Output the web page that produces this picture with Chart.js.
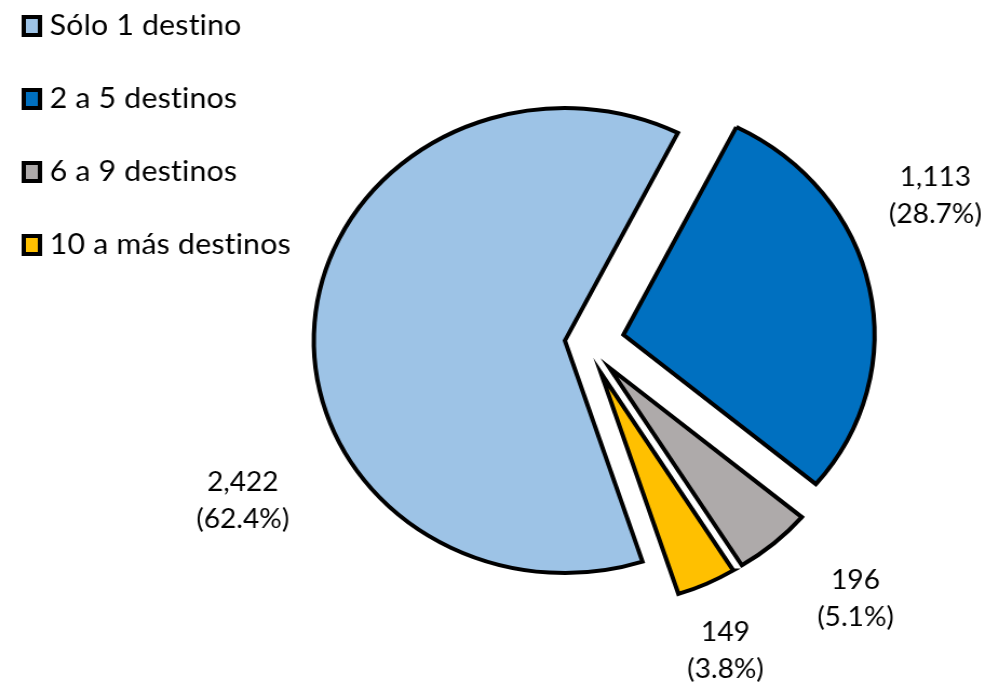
<!DOCTYPE html>
<html>
<head>
<meta charset="utf-8">
<script src="https://cdn.jsdelivr.net/npm/chart.js@4.4.1/dist/chart.umd.min.js"></script>
<style>
html,body{margin:0;padding:0;background:#fff;overflow:hidden;}
#wrap{width:926px;height:684px;transform:scaleX(1.08);transform-origin:0 0;}
canvas{display:block;}
</style>
</head>
<body>
<div id="wrap"><canvas id="c" width="926" height="684"></canvas></div>
<script>
// ---- data ----
const categories = ['Sólo 1 destino', '2 a 5 destinos', '6 a 9 destinos', '10 a más destinos'];
const values = [2422, 1113, 196, 149];

// ---- style ----
const colors = ['#9DC3E6', '#0070C0', '#AEAAAA', '#FFC000'];
const explodePx = [19, 36, 34, 34];             // how far each slice is pulled out
const labelFrac = [0.355, 0.364, 0.297, 0.674]; // where along the arc the label sits
const labelGap = [106, 88, 92, 69];             // label distance beyond the rim
const FONT = 'Lato, "Open Sans", sans-serif';
const LABEL_SIZE = 26;
const LEGEND_SIZE = 28;
const LINE = 37;

const total = values.reduce((a, b) => a + b, 0);

const explodePlugin = {
  id: 'explode',
  afterDatasetUpdate(chart, args) {
    args.meta.data.forEach((arc, i) => {
      const mid = (arc.startAngle + arc.endAngle) / 2;
      arc.x += Math.cos(mid) * explodePx[i];
      arc.y += Math.sin(mid) * explodePx[i];
    });
  }
};

const labelPlugin = {
  id: 'sliceLabels',
  afterDatasetsDraw(chart) {
    const meta = chart.getDatasetMeta(0);
    const ctx = chart.ctx;
    ctx.save();
    ctx.font = LABEL_SIZE + 'px ' + FONT;
    ctx.fillStyle = '#000';
    ctx.textAlign = 'center';
    ctx.textBaseline = 'middle';
    meta.data.forEach((arc, i) => {
      const a = arc.startAngle + (arc.endAngle - arc.startAngle) * labelFrac[i];
      const r = arc.outerRadius + labelGap[i];
      const x = arc.x + Math.cos(a) * r;
      const y = arc.y + Math.sin(a) * r;
      const v = values[i].toLocaleString('en-US');
      const p = '(' + (values[i] / total * 100).toFixed(1) + '%)';
      ctx.fillText(v, x, y - LINE / 2);
      ctx.fillText(p, x, y + LINE / 2);
    });
    ctx.restore();
  }
};

const legendPlugin = {
  id: 'sideLegend',
  afterDraw(chart) {
    const ctx = chart.ctx;
    ctx.save();
    const top = 26, step = 73;
    categories.forEach((name, i) => {
      const cy = top + i * step;
      ctx.fillStyle = colors[i];
      ctx.strokeStyle = '#000';
      ctx.lineWidth = 4;
      ctx.lineJoin = 'miter';
      ctx.fillRect(22, cy - 9, 15, 18);
      ctx.strokeRect(22, cy - 9, 15, 18);
      ctx.fillStyle = '#000';
      ctx.font = LEGEND_SIZE + 'px ' + FONT;
      if ('letterSpacing' in ctx) ctx.letterSpacing = '0.2px';
      ctx.textAlign = 'left';
      ctx.textBaseline = 'middle';
      ctx.fillText(name, 46, cy);
    });
    ctx.restore();
  }
};

new Chart(document.getElementById('c'), {
  type: 'pie',
  data: {
    labels: categories,
    datasets: [{
      data: values,
      backgroundColor: colors,
      borderColor: '#000',
      borderWidth: 4,
      borderJoinStyle: 'miter'
    }]
  },
  options: {
    responsive: false,
    animation: false,
    events: [],
    rotation: 162,
    radius: 232.5,
    layout: { padding: { left: 158, right: 0, top: 0, bottom: 0 } },
    plugins: { legend: { display: false }, tooltip: { enabled: false } }
  },
  plugins: [explodePlugin, labelPlugin, legendPlugin]
});
</script>
</body>
</html>
